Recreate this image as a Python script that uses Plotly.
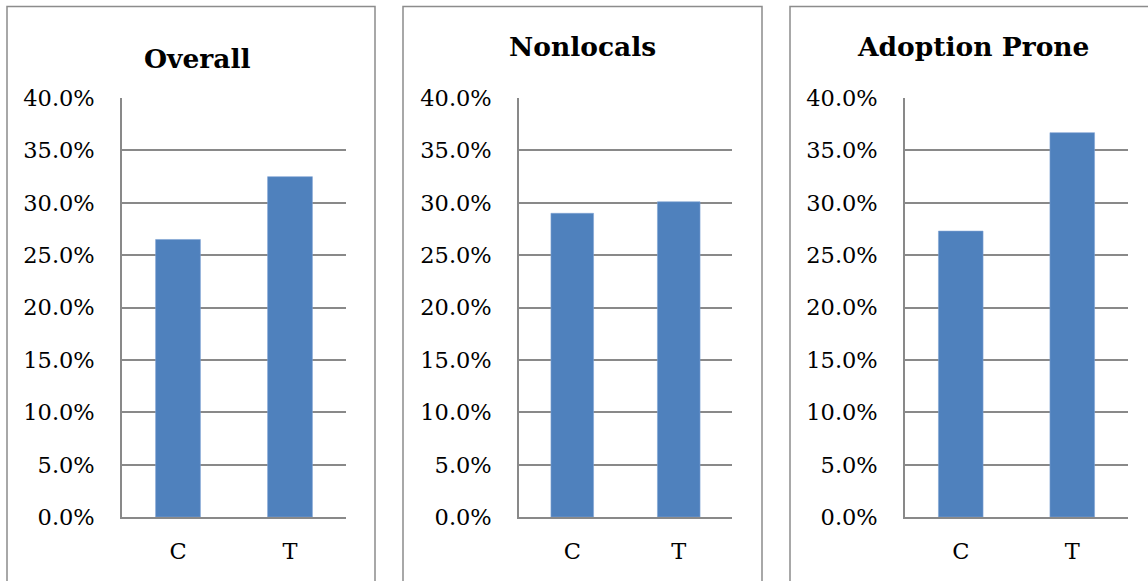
import plotly.graph_objects as go

categories = ["C", "T"]
panel_titles = ["Overall", "Nonlocals", "Adoption Prone"]
overall = [0.265, 0.325]
nonlocals = [0.290, 0.301]
adoption_prone = [0.273, 0.367]
series = [overall, nonlocals, adoption_prone]
y_ticks = [0, 0.05, 0.10, 0.15, 0.20, 0.25, 0.30, 0.35, 0.40]

W, H = 1148, 581
BAR = "#4F81BD"
GRID = "#898989"
FONT = "DejaVu Serif"

# plot-area pixel boxes (x0, x1) and panel borders
plot_x = [(122, 346), (519, 732), (905, 1128)]
panel_x = [(7, 375), (403, 762), (790, 1160)]
title_pos = [(197, 58), (582, 47), (973, 47)]
y_top_px, y_bot_px = 98, 517

fig = go.Figure()
for i, vals in enumerate(series):
    n = "" if i == 0 else str(i + 1)
    fig.add_trace(go.Bar(x=categories, y=vals, marker=dict(color=BAR, line=dict(color="#7FA3D3", width=0.6)),
                         xaxis="x" + n, yaxis="y" + n, showlegend=False))
    x0, x1 = plot_x[i]
    fig.layout["xaxis" + n] = dict(
        domain=[x0 / W, x1 / W], anchor="y" + n, showgrid=False, showline=True,
        linecolor=GRID, linewidth=1.5, ticks="", ticklabelstandoff=13, automargin=False,
        tickfont=dict(family=FONT, size=22.5, color="#000"), fixedrange=True)
    fig.layout["yaxis" + n] = dict(
        domain=[1 - y_bot_px / H, 1 - y_top_px / H], anchor="x" + n,
        range=[0, 0.4001], tickvals=y_ticks, tickformat=".1%", showgrid=True,
        gridcolor=GRID, gridwidth=1.5, showline=True, linecolor=GRID, linewidth=1.5,
        zeroline=False, ticks="", ticklabelstandoff=21, automargin=False,
        tickfont=dict(family=FONT, size=22.5, color="#000"), fixedrange=True)
    px0, px1 = panel_x[i]
    fig.add_shape(type="rect", xref="paper", yref="paper",
                  x0=px0 / W, x1=px1 / W, y0=-0.2, y1=1 - 6.5 / H,
                  line=dict(color="#8c8c8c", width=1.5), fillcolor="rgba(0,0,0,0)", layer="below")
    tx, ty = title_pos[i]
    fig.add_annotation(text="<b>" + panel_titles[i] + "</b>", xref="paper", yref="paper",
                       x=tx / W, y=1 - ty / H, xanchor="center", yanchor="middle",
                       showarrow=False, font=dict(family=FONT, size=26.5, color="#000"))

fig.update_layout(width=W, height=H, margin=dict(l=0, r=0, t=0, b=0, pad=0, autoexpand=False),
                  paper_bgcolor="white", plot_bgcolor="white", bargap=0.6)
fig.write_html("out.html", config={"displayModeBar": False},
               post_script="document.body.style.margin='0';document.body.style.overflow='hidden';")
